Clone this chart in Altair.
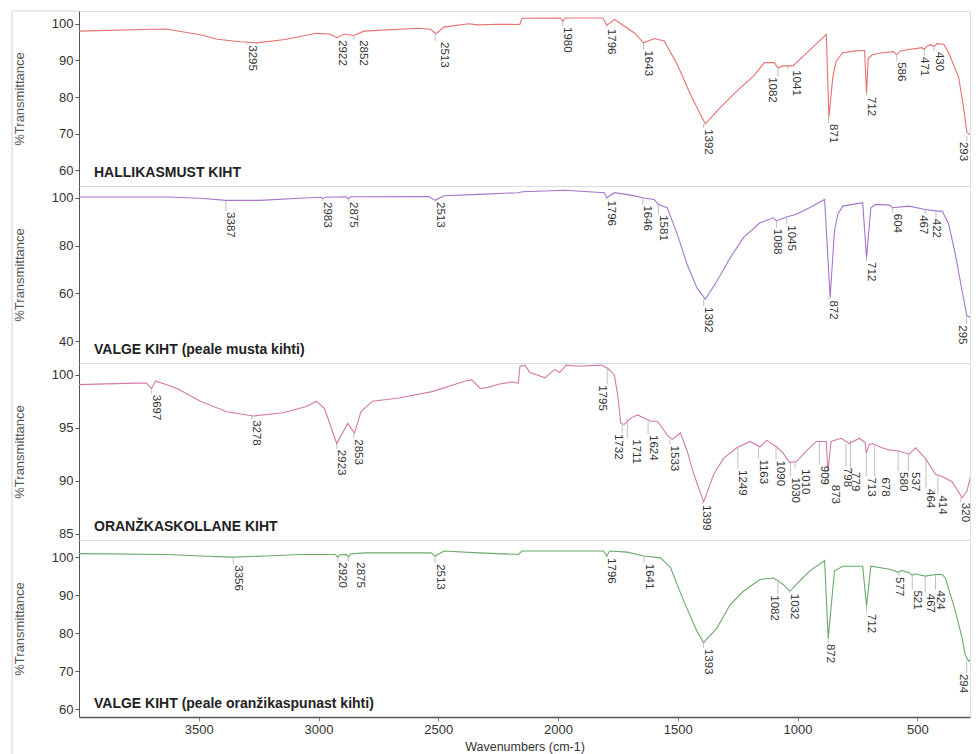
import altair as alt
import pandas as pd

FONT = "Liberation Sans"

# ---------------- Panel 1: HALLIKASMUST KIHT ----------------
p1_wn = [4000, 3700, 3638, 3493, 3422, 3327, 3257, 3141, 3008, 2955, 2922, 2893, 2852, 2810, 2581, 2532, 2510, 2477, 2373, 2332, 2249, 2160, 2150, 1990, 1980, 1970, 1813, 1796, 1764, 1681, 1643, 1598, 1557, 1502, 1447, 1406, 1385, 1323, 1254, 1184, 1138, 1097, 1082, 1060, 1019, 880, 869, 853, 839, 811, 756, 720, 712, 705, 687, 645, 600, 586, 570, 535, 480, 471, 460, 445, 430, 418, 390, 369, 327, 307, 293, 272, 250]
p1_T = [98.0, 98.5, 98.6, 97.0, 95.8, 95.1, 94.8, 95.7, 97.4, 97.2, 96.2, 97.2, 96.8, 98.0, 98.8, 98.5, 97.3, 99.1, 100.0, 99.7, 99.9, 99.8, 101.5, 101.6, 100.7, 101.6, 101.6, 99.6, 101.2, 97.5, 94.8, 96.0, 95.3, 88.9, 80.7, 75.3, 72.7, 77.1, 81.6, 85.7, 89.4, 89.4, 88.0, 88.5, 88.5, 97.1, 74.5, 85.3, 89.8, 92.1, 92.6, 92.7, 81.0, 90.5, 91.6, 92.1, 92.4, 91.6, 92.6, 93.0, 93.5, 93.0, 93.9, 94.3, 93.8, 94.6, 94.4, 92.1, 85.3, 77.1, 70.3, 69.4, 70.0]
p1_peaks = [3295, 2922, 2852, 2513, 1980, 1796, 1643, 1392, 1082, 1041, 871, 712, 586, 471, 430, 293]
p1_peakT = [94.8, 96.2, 96.8, 97.3, 100.7, 99.6, 94.8, 72.7, 88.0, 88.5, 74.5, 81.0, 91.6, 93.0, 93.8, 69.4]
p1_labT = [94.4, 95.8, 95.8, 95.3, 99.4, 98.9, 93.0, 71.5, 85.7, 87.6, 72.9, 80.3, 89.8, 91.2, 92.6, 68.0]
p1_labWn = [3295, 2922, 2835, 2495, 1980, 1796, 1643, 1392, 1125, 1025, 871, 712, 586, 489, 430, 293]

# ---------------- Panel 2: VALGE KIHT (peale musta kihti) ----------------
p2_wn = [4000, 3630, 3493, 3386, 3245, 3079, 2990, 2983, 2970, 2885, 2875, 2865, 2830, 2540, 2513, 2477, 2332, 2166, 2150, 2055, 1972, 1807, 1796, 1765, 1696, 1646, 1599, 1581, 1544, 1502, 1461, 1420, 1385, 1337, 1281, 1226, 1157, 1101, 1088, 1046, 1005, 950, 887, 864, 846, 832, 811, 728, 712, 694, 673, 615, 604, 535, 467, 417, 396, 369, 341, 313, 293, 272, 250]
p2_T = [100.3, 100.3, 99.8, 98.9, 98.9, 99.8, 100.2, 99.6, 100.2, 100.4, 99.6, 100.4, 100.4, 100.5, 98.9, 100.8, 101.4, 102.1, 102.5, 102.8, 103.1, 102.1, 100.0, 102.1, 101.1, 100.0, 99.3, 97.2, 95.8, 84.7, 72.1, 62.3, 57.5, 65.1, 74.9, 83.3, 89.5, 91.6, 90.3, 91.9, 93.1, 95.8, 99.3, 58.2, 86.1, 93.1, 96.5, 97.9, 74.9, 95.8, 97.2, 96.9, 95.8, 96.5, 95.1, 94.4, 94.4, 88.9, 76.3, 61.0, 50.5, 49.8, 50.0]
p2_peaks = [3387, 2983, 2875, 2513, 1796, 1646, 1581, 1392, 1088, 1045, 872, 712, 604, 467, 422, 295]
p2_peakT = [98.9, 99.6, 99.6, 98.9, 100.0, 100.0, 97.2, 57.5, 90.3, 91.9, 58.2, 74.9, 95.8, 95.1, 94.4, 49.8]
p2_labT = [94.4, 98.6, 98.6, 98.6, 99.3, 97.2, 93.1, 54.7, 87.4, 88.9, 57.5, 73.5, 93.7, 93.1, 91.6, 47.1]
p2_labWn = [3387, 2983, 2875, 2513, 1796, 1646, 1581, 1392, 1105, 1045, 872, 712, 604, 495, 440, 295]

# ---------------- Panel 3: ORANŽKASKOLLANE KIHT ----------------
p3_wn = [4000, 3769, 3720, 3697, 3680, 3590, 3493, 3383, 3272, 3148, 3051, 3009, 2975, 2924, 2878, 2850, 2823, 2775, 2664, 2526, 2387, 2360, 2325, 2291, 2249, 2194, 2166, 2159, 2138, 2118, 2090, 2055, 2014, 1993, 1966, 1917, 1821, 1793, 1765, 1751, 1738, 1724, 1696, 1668, 1613, 1585, 1544, 1523, 1489, 1461, 1433, 1392, 1350, 1309, 1254, 1198, 1157, 1129, 1088, 1060, 1033, 1005, 963, 922, 901, 880, 873, 860, 818, 784, 742, 718, 713, 701, 687, 659, 618, 576, 535, 507, 466, 424, 396, 355, 313, 293, 272, 250]
p3_T = [99.06, 99.2, 99.2, 98.7, 99.4, 98.7, 97.5, 96.5, 96.1, 96.4, 97.0, 97.5, 96.8, 93.5, 95.4, 94.5, 96.5, 97.5, 97.8, 98.4, 99.4, 99.5, 98.7, 98.8, 99.1, 99.3, 99.2, 100.8, 100.9, 100.2, 100.0, 99.7, 100.5, 100.2, 100.9, 100.8, 100.9, 100.6, 100.0, 98.1, 95.4, 95.3, 95.9, 96.2, 95.6, 95.6, 94.3, 93.9, 94.5, 92.8, 90.6, 88.0, 90.6, 92.1, 93.1, 93.7, 93.2, 93.8, 93.2, 92.6, 91.7, 91.8, 92.8, 93.7, 93.7, 93.7, 90.9, 93.7, 94.0, 93.5, 94.0, 93.6, 92.6, 93.4, 93.5, 93.2, 92.9, 92.8, 92.5, 93.1, 92.1, 90.6, 90.4, 89.9, 88.4, 89.0, 90.9, 91.5]
p3_peaks = [3697, 3278, 2923, 2853, 1795, 1732, 1711, 1624, 1533, 1399, 1249, 1163, 1090, 1030, 1010, 909, 873, 798, 779, 713, 678, 580, 537, 464, 414, 320]
p3_peakT = [98.7, 96.1, 93.5, 94.5, 100.6, 95.3, 95.9, 95.6, 93.9, 88.0, 93.1, 93.2, 93.2, 91.7, 91.8, 93.7, 90.9, 93.5, 93.8, 92.6, 93.3, 92.8, 92.6, 92.1, 90.4, 88.4]
p3_labT = [98.2, 95.8, 93.0, 94.0, 99.1, 94.5, 94.0, 94.4, 93.4, 87.8, 91.1, 92.1, 92.0, 90.4, 91.2, 91.5, 89.7, 91.3, 90.9, 90.4, 90.4, 90.9, 90.9, 89.3, 88.7, 88.0]
p3_labWn = [3697, 3278, 2923, 2853, 1837, 1768, 1692, 1624, 1533, 1399, 1249, 1163, 1090, 1030, 987, 909, 862, 814, 779, 713, 655, 580, 530, 464, 414, 320]

# ---------------- Panel 4: VALGE KIHT (peale oranžikaspunast kihti) ----------------
p4_wn = [4000, 3630, 3493, 3356, 3217, 3079, 2930, 2920, 2910, 2885, 2875, 2865, 2809, 2530, 2513, 2477, 2332, 2166, 2150, 1810, 1796, 1785, 1710, 1641, 1572, 1530, 1475, 1420, 1392, 1337, 1281, 1226, 1157, 1101, 1082, 1060, 1032, 1005, 950, 887, 872, 846, 811, 728, 712, 694, 615, 577, 565, 535, 521, 510, 467, 424, 396, 383, 341, 313, 300, 286, 272, 250]
p4_T = [100.9, 100.7, 100.3, 100.0, 100.3, 100.7, 100.7, 100.0, 100.6, 100.7, 100.1, 100.8, 101.1, 101.1, 100.2, 101.6, 101.1, 100.7, 101.6, 101.6, 100.3, 101.6, 101.3, 100.3, 99.8, 97.2, 88.4, 80.5, 77.5, 81.3, 87.5, 91.0, 94.1, 94.5, 93.8, 92.8, 91.0, 92.8, 96.3, 99.1, 78.5, 96.3, 97.6, 97.6, 87.1, 97.6, 96.8, 96.0, 96.5, 95.9, 95.2, 95.6, 95.0, 95.4, 95.4, 94.5, 85.8, 78.7, 74.3, 72.6, 73.4, 73.0]
p4_peaks = [3356, 2920, 2875, 2513, 1796, 1641, 1393, 1082, 1032, 872, 712, 577, 521, 467, 424, 294]
p4_peakT = [100.0, 100.0, 100.1, 100.2, 100.3, 100.3, 77.5, 93.8, 91.0, 78.5, 87.1, 96.0, 95.2, 95.0, 95.4, 72.6]
p4_labT = [98.1, 98.9, 98.9, 98.4, 100.0, 98.5, 76.1, 90.2, 90.6, 77.4, 85.3, 95.0, 91.5, 90.6, 91.5, 69.5]
p4_labWn = [3356, 2920, 2846, 2513, 1796, 1641, 1393, 1117, 1032, 885, 712, 595, 521, 467, 424, 294]

panel_titles = ["HALLIKASMUST KIHT", "VALGE KIHT (peale musta kihti)",
                "ORANŽKASKOLLANE KIHT", "VALGE KIHT (peale oranžikaspunast kihti)"]
panel_colors = ["#e8706f", "#a775c9", "#d57aa8", "#6aaa6a"]
y_domains = [[55.7, 103.5], [30.9, 104.9], [84.4, 101.1], [57.9, 104.5]]
y_ticks = [[60, 70, 80, 90, 100], [40, 60, 80, 100], [85, 90, 95, 100], [60, 70, 80, 90, 100]]
x_ticks = [3500, 3000, 2500, 2000, 1500, 1000, 500]

X_DOMAIN = [4000, 280]
W = 891
HEIGHTS = [175, 177, 177, 177]
FRAME_X = -67  # outer figure border, left of the y-axis title

series = [(p1_wn, p1_T, p1_peaks, p1_peakT, p1_labT, p1_labWn),
          (p2_wn, p2_T, p2_peaks, p2_peakT, p2_labT, p2_labWn),
          (p3_wn, p3_T, p3_peaks, p3_peakT, p3_labT, p3_labWn),
          (p4_wn, p4_T, p4_peaks, p4_peakT, p4_labT, p4_labWn)]

one_row = pd.DataFrame({"k": [0]})


def make_panel(i):
    wn, T, peaks, peakT, labT, labWn = series[i]
    h = HEIGHTS[i]
    bottom = (i == 3)
    df = pd.DataFrame({"wn": wn, "T": T})
    lab = pd.DataFrame({"wn": peaks, "lx": labWn, "peak": peakT, "lab": labT,
                        "txt": [str(p) for p in peaks]})
    xscale = alt.Scale(domain=X_DOMAIN, nice=False, zero=False)
    yscale = alt.Scale(domain=y_domains[i], nice=False, zero=False)
    if bottom:
        xaxis = alt.Axis(values=x_ticks, title="Wavenumbers (cm-1)", grid=False,
                         labelFontSize=13, titleFontSize=12.5, titleFontWeight="normal",
                         labelFont=FONT, titleFont=FONT, labelColor="#333", titleColor="#333",
                         tickSize=4, labelPadding=2, titlePadding=4,
                         domainColor="#555", domainWidth=1.5, tickColor="#888",
                         format="d")
    else:
        xaxis = None
    yaxis = alt.Axis(values=y_ticks[i], title="%Transmittance", grid=False,
                     labelFontSize=13, labelFont=FONT, labelColor="#333",
                     domainColor="#555", tickColor="#555", tickSize=4, labelPadding=2,
                     titleFontWeight="normal", titleFontSize=13, titleColor="#555",
                     titleFont=FONT, titlePadding=25)

    def X(f):
        return alt.X(f, type="quantitative", scale=xscale, axis=xaxis)

    def Y(f):
        return alt.Y(f, type="quantitative", scale=yscale, axis=yaxis)

    line = alt.Chart(df).mark_line(color=panel_colors[i], strokeWidth=1.1, clip=True).encode(
        x=X("wn"), y=Y("T"), order=alt.Order("wn:Q", sort="descending"))
    ticks = alt.Chart(lab).mark_rule(color="#b0b0b0", strokeWidth=0.8, clip=True).encode(
        x=X("wn"), y=Y("peak"), y2="lab:Q")
    text_style = dict(angle=90, align="left", baseline="alphabetic", fontSize=11.5,
                      font=FONT, color="#333", dx=1, clip=True)
    texts = alt.Chart(lab).transform_filter("datum.wn >= 300").mark_text(
        dy=-1.5, **text_style).encode(x=X("lx"), y=Y("lab"), text="txt:N")
    # labels at the very right edge are nudged inward so they stay readable
    edge_texts = alt.Chart(lab).transform_filter("datum.wn < 300").mark_text(
        dy=7, **text_style).encode(x=X("lx"), y=Y("lab"), text="txt:N")
    name = alt.Chart(pd.DataFrame({"t": [panel_titles[i]]})).mark_text(
        align="left", baseline="alphabetic", fontSize=14, fontWeight="bold", font=FONT,
        color="#222").encode(x=alt.value(15), y=alt.value(h - 9), text="t:N")
    frame = alt.Chart(one_row).mark_rule(color="#d4d4d4", strokeWidth=1).encode(
        x=alt.value(FRAME_X), y=alt.value(0), y2=alt.value(h + 45 if bottom else h))
    layers = [frame, line, ticks, texts, edge_texts, name]
    if i == 0:
        top = alt.Chart(one_row).mark_rule(color="#d4d4d4", strokeWidth=1).encode(
            x=alt.value(FRAME_X), x2=alt.value(0), y=alt.value(0))
        layers.insert(0, top)
    return alt.layer(*layers).properties(width=W, height=h)


chart = alt.vconcat(*[make_panel(i) for i in range(4)], spacing=0, bounds="flush").properties(
    padding={"left": 3, "top": 2, "right": 0, "bottom": 0}
).configure_view(stroke="#cfcfcf", strokeWidth=1).configure(background="white")

chart.save("out.html", embed_options={"renderer": "svg", "actions": False})
